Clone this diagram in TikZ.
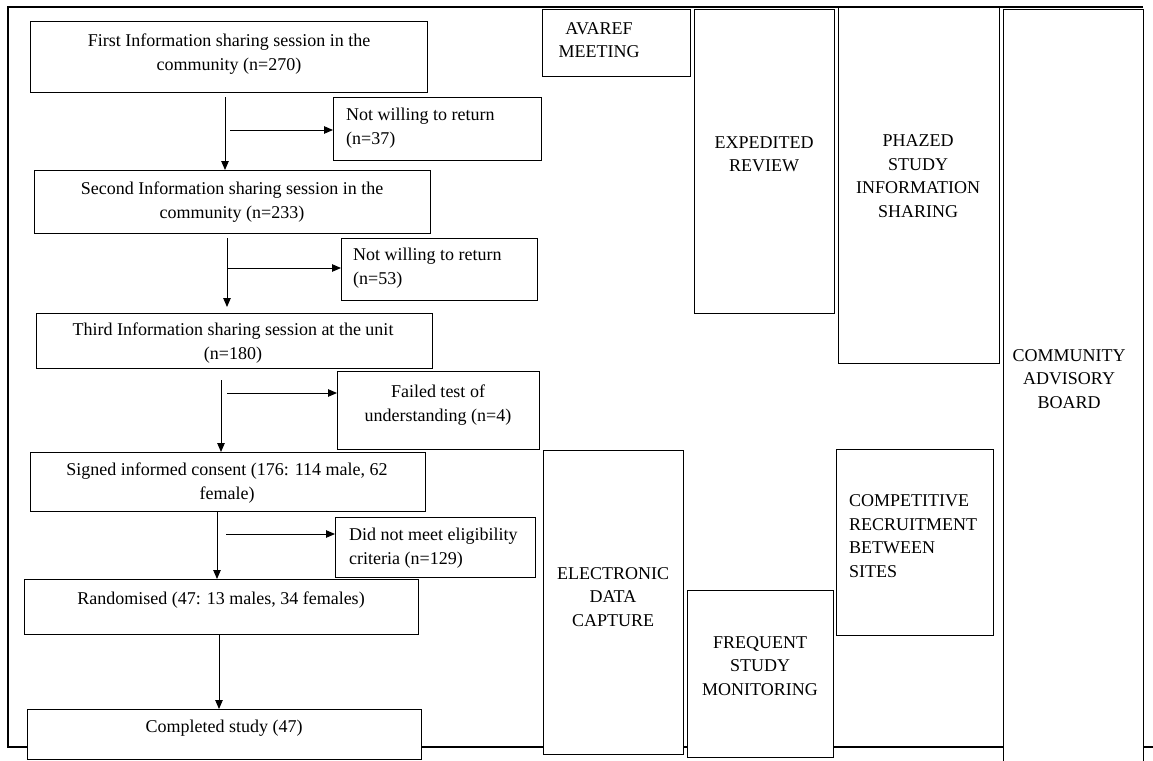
\documentclass[tikz,border=0pt]{standalone}
\usepackage{fontspec}
\setmainfont{Liberation Serif}
\usetikzlibrary{arrows.meta,calc}
\tikzset{
  boxnode/.style={draw=black, line width=1.4pt, fill=white, rectangle, inner sep=0pt, anchor=north west},
  txt/.style={inner sep=0pt, font=\fontsize{18}{23.5}\selectfont, align=center},
  txtl/.style={inner sep=0pt, font=\fontsize{18}{23.5}\selectfont, align=left, anchor=west},
  arr/.style={draw=black, line width=0.9pt, -{Triangle[length=9pt,width=7.5pt]}},
  frameline/.style={draw=black, line width=1.2pt}
}
\begin{document}
\begin{tikzpicture}[x=1pt,y=-1pt]
\useasboundingbox (0,0) rectangle (1153,760);
\clip (0,0) rectangle (1153,760);
% frame
\coordinate (fa) at (8,7);
\coordinate (fb) at (1143,7);
\coordinate (fc) at (8,747);
\coordinate (fd) at (1160,747);
\draw[frameline] (fb) -- (fa) -- (fc) -- (fd);
% left flow boxes
\node[boxnode, minimum width=397pt, minimum height=71pt] (first) at (30,21) {};
\node[boxnode, minimum width=208pt, minimum height=63pt] (nw37) at (333,97) {};
\node[boxnode, minimum width=396pt, minimum height=63pt] (second) at (34,170) {};
\node[boxnode, minimum width=196pt, minimum height=62pt] (nw53) at (341,238) {};
\node[boxnode, minimum width=396pt, minimum height=55pt] (third) at (36,313) {};
\node[boxnode, minimum width=202pt, minimum height=78pt] (failed) at (337,371) {};
\node[boxnode, minimum width=395pt, minimum height=59pt] (signed) at (30,452) {};
\node[boxnode, minimum width=200pt, minimum height=60pt] (dnm) at (335,517) {};
\node[boxnode, minimum width=394pt, minimum height=55pt] (rand) at (24,579) {};
\node[boxnode, minimum width=394pt, minimum height=50pt] (comp) at (27,709) {};
% right boxes
\node[boxnode, minimum width=148pt, minimum height=67pt] (avaref) at (542,9) {};
\node[boxnode, minimum width=140pt, minimum height=304pt] (exped) at (694,9) {};
\node[boxnode, minimum width=161pt, minimum height=356pt] (phazed) at (838,7) {};
\node[boxnode, minimum width=140pt, minimum height=770pt] (cab) at (1003,9) {};
\node[boxnode, minimum width=157pt, minimum height=186pt] (crbs) at (836,449) {};
\node[boxnode, minimum width=140pt, minimum height=304pt] (edc) at (543,450) {};
\node[boxnode, minimum width=146pt, minimum height=167pt] (fsm) at (687,590) {};
% texts
\node[txt] (tfirst) at (229,54) {First Information sharing session in the\\community (n=270)};
\node[txtl] (tnw37) at (346,128) {Not willing to return\\(n=37)};
\node[txt] (tsecond) at (232,202) {Second Information sharing session in the\\community (n=233)};
\node[txtl] (tnw53) at (353,268) {Not willing to return\\(n=53)};
\node[txt] (tthird) at (233,343) {Third Information sharing session at the unit\\(n=180)};
\node[txt] (tfailed) at (438,405) {Failed test of\\understanding (n=4)};
\node[txt] (tsigned) at (227,483) {Signed informed consent (176: 114 male, 62\\female)};
\node[txtl] (tdnm) at (349,548) {Did not meet eligibility\\criteria (n=129)};
\node[txt] (trand) at (221,600) {Randomised (47: 13 males, 34 females)};
\node[txt] (tcomp) at (224,728) {Completed study (47)};
\node[txt] (tavaref) at (599,40) {AVAREF\\MEETING};
\node[txt] (texped) at (764,154) {EXPEDITED\\REVIEW};
\node[txt] (tphazed) at (918,176) {PHAZED\\STUDY\\INFORMATION\\SHARING};
\node[txt] (tcab) at (1069,379) {COMMUNITY\\ADVISORY\\BOARD};
\node[txtl] (tcrbs) at (849,536) {COMPETITIVE\\RECRUITMENT\\BETWEEN\\SITES};
\node[txt] (tedc) at (613,597) {ELECTRONIC\\DATA\\CAPTURE};
\node[txt] (tfsm) at (760,666) {FREQUENT\\STUDY\\MONITORING};
% connectors
\coordinate (a1s) at (225,97);
\coordinate (s1s) at (230,130);
\coordinate (a2s) at (227,238);
\coordinate (s2s) at (228,268);
\coordinate (a3s) at (221,380);
\coordinate (s3s) at (227,393);
\coordinate (a4x) at (217,0);
\coordinate (s4s) at (226,534);
\coordinate (a5x) at (219,0);
\draw[arr] (a1s) -- (a1s |- second.north);
\draw[arr] (s1s) -- (s1s -| nw37.west);
\draw[arr] (a2s) -- ($(a2s |- third.north)+(0,-6)$);
\draw[arr] (s2s) -- (s2s -| nw53.west);
\draw[arr] (a3s) -- (a3s |- signed.north);
\draw[arr] (s3s) -- (s3s -| failed.west);
\draw[arr] (a4x |- signed.south) -- (a4x |- rand.north);
\draw[arr] (s4s) -- (s4s -| dnm.west);
\draw[arr] (a5x |- rand.south) -- (a5x |- comp.north);
\end{tikzpicture}
\end{document}
